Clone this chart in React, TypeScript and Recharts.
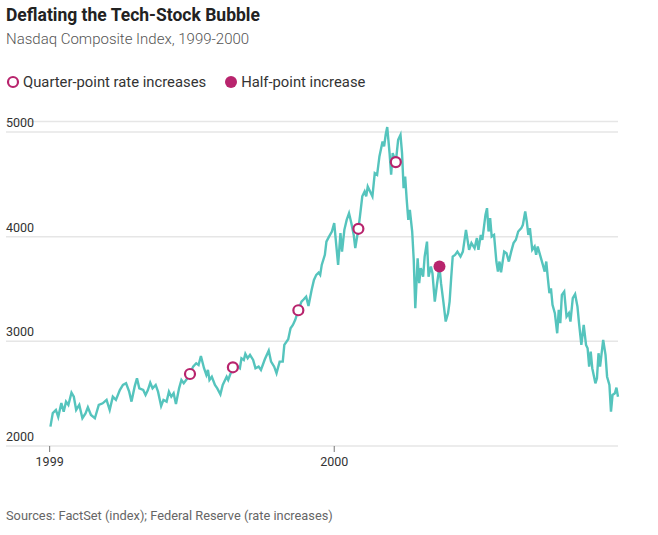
import React from "react";
import { ComposedChart, Line, Scatter, XAxis, YAxis, CartesianGrid } from "recharts";

// days counted from Jan 1 1999, closes
const days1999 = [
  1, 4, 8, 11, 15, 18, 21, 24, 28, 31, 34, 38, 42, 46, 49, 53, 58, 63, 68, 73, 77, 81, 85, 90, 94, 98,
  102, 105, 109, 112, 115, 120, 123, 126, 129, 132, 136, 139, 143, 146, 150, 153, 156, 159, 162, 166,
  169, 172, 176, 180, 184, 188, 191, 194, 198, 201, 203, 205, 208, 212, 215, 219, 222, 227, 229, 235,
  239, 244, 246, 249, 251, 254, 257, 261, 264, 268, 271, 276, 281, 284, 288, 291, 295, 299, 301, 306,
  309, 312, 315, 319, 323, 326, 329, 332, 336, 339, 342, 345, 347, 349, 353, 355, 358, 362
];
const closes1999 = [
  2185, 2315, 2344, 2277, 2410, 2328, 2424, 2392, 2510, 2471, 2344, 2392, 2265, 2312, 2370, 2296, 2265,
  2392, 2408, 2440, 2344, 2471, 2440, 2535, 2583, 2599, 2519, 2424, 2567, 2647, 2551, 2535, 2488, 2535,
  2605, 2551, 2583, 2519, 2382, 2440, 2424, 2519, 2471, 2504, 2401, 2551, 2631, 2599, 2640, 2688, 2758,
  2790, 2774, 2860, 2743, 2679, 2727, 2631, 2662, 2583, 2551, 2494, 2583, 2662, 2631, 2752, 2774, 2743,
  2838, 2822, 2880, 2838, 2870, 2822, 2743, 2758, 2727, 2829, 2911, 2806, 2758, 2695, 2806, 2806, 2966,
  3020, 3125, 3157, 3205, 3297, 3380, 3402, 3427, 3338, 3491, 3587, 3635, 3657, 3635, 3730, 3826, 3953,
  3995, 4049
];
const days2000 = [
  365, 367, 370, 373, 375, 378, 381, 384, 387, 390, 392, 396, 398, 401, 404, 406, 408, 411, 414, 417,
  420, 423, 427, 429, 431, 433, 436, 438, 440, 444, 447, 450, 452, 454, 456, 458, 460, 462, 465, 467,
  469, 472, 474, 476, 479, 481, 484, 486, 489, 491, 494, 497, 500, 502, 505, 508, 511, 513, 515, 517,
  520, 523, 527, 530, 534, 538, 541, 545, 548, 550, 553, 555, 559, 561, 563, 565, 567, 570, 573, 575,
  577, 579, 583, 586, 589, 592, 595, 598, 601, 605, 607, 610, 612, 614, 616, 619, 622, 624, 626, 629,
  632, 635, 637, 639, 641, 643, 645, 648, 651, 653, 655, 657, 660, 663, 666, 668, 671, 674, 677, 679,
  682, 685, 688, 690, 692, 694, 696, 700, 702, 704, 706, 710, 713, 715, 718, 720, 722, 725, 727, 729
];
const closes2000 = [
  4129, 3970, 3730, 4033, 3857, 4065, 4160, 4224, 4129, 4017, 3890, 4075, 4193, 4385, 4431, 4385, 4479,
  4431, 4385, 4607, 4591, 4766, 4910, 4862, 4973, 5047, 4798, 4591, 4798, 4712, 4925, 4973, 4798, 4463,
  4575, 4352, 4160, 4256, 4049, 3778, 3316, 3794, 3555, 3699, 3618, 3810, 3953, 3618, 3714, 3651, 3380,
  3555, 3714, 3555, 3380, 3189, 3269, 3380, 3603, 3810, 3826, 3857, 3810, 3857, 4065, 3874, 3938, 3890,
  3986, 3874, 4017, 3970, 4208, 4272, 4049, 4177, 4001, 4017, 3762, 3666, 3762, 3660, 3857, 3842, 3762,
  3857, 3938, 3970, 4049, 4081, 4113, 4240, 4145, 4017, 4081, 3874, 3905, 3826, 3905, 3826, 3747, 3666,
  3762, 3603, 3460, 3507, 3348, 3269, 3077, 3300, 3173, 3444, 3475, 3236, 3269, 3189, 3412, 3450, 3332,
  3173, 2966, 3157, 2966, 2934, 2758, 2901, 2743, 2599, 2647, 2886, 2758, 3013, 2870, 2662, 2583, 2328,
  2488, 2504, 2557, 2470
];

// Fed rate increases
const quarterDays = [180, 235, 319, 396, 444];
const quarterCloses = [2688, 2752, 3297, 4075, 4712];
const halfDays = [500];
const halfCloses = [3714];

const yTicks = [2000, 3000, 4000, 5000];
const xTicks = [0, 365];
const xLabels = ["1999", "2000"];

const TEAL = "#55c4bd";
const MAGENTA = "#b8246d";
const FONT = "Roboto, sans-serif";

const lineData = [...days1999, ...days2000].map((day, i) => ({
  day,
  value: [...closes1999, ...closes2000][i]
}));
const quarterData = quarterDays.map((day, i) => ({ day, value: quarterCloses[i] }));
const halfData = halfDays.map((day, i) => ({ day, value: halfCloses[i] }));

const YTick = (props: any) => {
  const { y, payload } = props;
  return (
    <text x={6} y={y - 5} fontSize={12.5} fill="#333" fontFamily={FONT} textAnchor="start">
      {payload.value}
    </text>
  );
};

const XTick = (props: any) => {
  const { x, y, payload } = props;
  const idx = xTicks.indexOf(payload.value);
  return (
    <g>
      <line x1={x} x2={x} y1={y - 8} y2={y - 2} stroke="#777" strokeWidth={1} />
      <text x={x} y={y + 12} textAnchor="middle" fontSize={12.5} fill="#333" fontFamily={FONT}>
        {xLabels[idx]}
      </text>
    </g>
  );
};

const HollowDot = (props: any) => (
  <circle cx={props.cx} cy={props.cy} r={5} fill="#fff" stroke={MAGENTA} strokeWidth={2.2} />
);
const FilledDot = (props: any) => <circle cx={props.cx} cy={props.cy} r={6} fill={MAGENTA} />;

const App: React.FC = () => {
  return (
    <div style={{ position: "absolute", top: 0, left: 0, width: 658, height: 535, background: "#fff", fontFamily: FONT }}>
      <div style={{ position: "absolute", left: 6, top: 5, fontSize: 17.5, fontWeight: 700, color: "#222" }}>
        Deflating the Tech-Stock Bubble
      </div>
      <div style={{ position: "absolute", left: 6, top: 30, fontSize: 15, fontWeight: 300, color: "#555" }}>
        Nasdaq Composite Index, 1999-2000
      </div>
      <div style={{ position: "absolute", left: 6, top: 73, display: "flex", alignItems: "center", fontSize: 14.8, color: "#333" }}>
        <svg width={14} height={14} style={{ marginRight: 3 }}>
          <circle cx={7} cy={7} r={5} fill="#fff" stroke={MAGENTA} strokeWidth={2.2} />
        </svg>
        <span>Quarter-point rate increases</span>
        <svg width={14} height={14} style={{ marginLeft: 18, marginRight: 3 }}>
          <circle cx={7} cy={7} r={6} fill={MAGENTA} />
        </svg>
        <span>Half-point increase</span>
      </div>
      <div style={{ position: "absolute", left: 6, top: 508, fontSize: 12.8, color: "#666" }}>
        Sources: FactSet (index); Federal Reserve (rate increases)
      </div>
      <div style={{ position: "absolute", top: 0, left: 0 }}>
        <ComposedChart
          width={658}
          height={535}
          data={lineData}
          margin={{ top: 121.5, right: 40, bottom: 59, left: 6 }}
        >
          <CartesianGrid vertical={false} stroke="#e6e6e6" strokeWidth={1.5} />
          <XAxis
            dataKey="day"
            type="number"
            domain={[-56, 729]}
            ticks={xTicks}
            axisLine={false}
            tickLine={false}
            tick={<XTick />}
            height={30}
            interval={0}
          />
          <YAxis
            dataKey="value"
            type="number"
            domain={[2000, 5100]}
            ticks={yTicks}
            axisLine={false}
            tickLine={false}
            tick={<YTick />}
            mirror
            interval={0}
          />
          <Line
            type="linear"
            dataKey="value"
            stroke={TEAL}
            strokeWidth={2.4}
            dot={false}
            activeDot={false}
            isAnimationActive={false}
          />
          <Scatter data={quarterData} dataKey="value" shape={<HollowDot />} isAnimationActive={false} />
          <Scatter data={halfData} dataKey="value" shape={<FilledDot />} isAnimationActive={false} />
        </ComposedChart>
      </div>
    </div>
  );
};

export default App;
